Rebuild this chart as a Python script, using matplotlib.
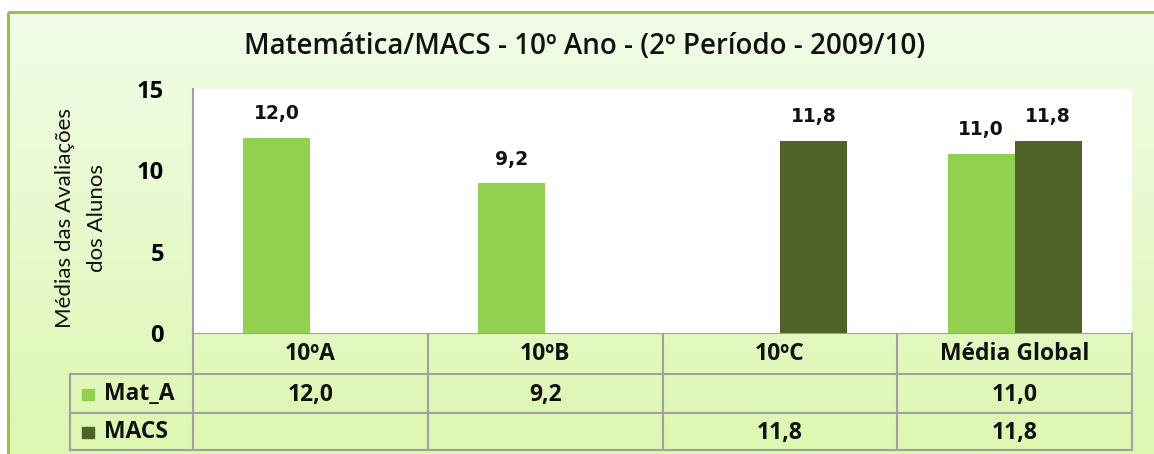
import numpy as np
import matplotlib
matplotlib.use("Agg")
import matplotlib.pyplot as plt
from matplotlib.patches import Rectangle
from matplotlib.colors import LinearSegmentedColormap

categories = ["10ºA", "10ºB", "10ºC", "Média Global"]
series_names = ["Mat_A", "MACS"]
mat_a = [12.0, 9.2, None, 11.0]
macs = [None, None, 11.8, 11.8]
yticks = [0, 5, 10, 15]
title = "Matemática/MACS - 10º Ano - (2º Período - 2009/10)"
ylabel = "Médias das Avaliações\ndos Alunos"

colors = ["#92D050", "#4F6228"]
W, H = 1154, 454
fig = plt.figure(figsize=(W / 100, H / 100), dpi=100)
fig.patch.set_facecolor("white")

# background gradient panel with green border
bg = fig.add_axes([0, 0, 1, 1], zorder=-10)
bg.axis("off")
cmap = LinearSegmentedColormap.from_list("g", ["#F2FCE8", "#DCF7B0"])
grad = np.linspace(0, 1, 256).reshape(-1, 1)
bg.imshow(grad, cmap=cmap, extent=[8, W + 5, H + 5, 12], aspect="auto")
bg.add_patch(Rectangle((8, 12), W, H, fill=False, edgecolor="#9BBB59", lw=2.2))
bg.set_xlim(0, W)
bg.set_ylim(H, 0)

fam = ["Open Sans", "DejaVu Sans"]

ax_l, ax_r, ax_t, ax_b = 193, 1132, 89, 333
ax = fig.add_axes([ax_l / W, 1 - ax_b / H, (ax_r - ax_l) / W, (ax_b - ax_t) / H])
ax.set_facecolor("white")
n = len(categories)
x = np.arange(n)
bw = 0.285
for vals, col, off in [(mat_a, colors[0], -0.5), (macs, colors[1], 0.5)]:
    for i, v in enumerate(vals):
        if v is None:
            continue
        xi = x[i] + off * bw
        ax.bar(xi, v, width=bw, color=col, zorder=3)
        ax.text(xi, v + 0.9, f"{v:.1f}".replace(".", ","), ha="center", va="bottom",
                fontsize=13.5, fontweight="bold", family="DejaVu Sans", color="#111111")

ax.set_xlim(-0.5, n - 0.5)
ax.set_ylim(0, 15)
ax.set_yticks(yticks)
ax.set_yticklabels([str(t) for t in yticks], fontsize=17, fontweight="bold", family=fam)
ax.tick_params(axis="y", length=0, pad=21)
ax.set_xticks([])
for s in ["top", "right", "bottom"]:
    ax.spines[s].set_visible(False)
ax.spines["left"].set_color("#A0A0A0")
ax.spines["left"].set_linewidth(1.5)

fig.text(585 / W, 1 - 46 / H, title, ha="center", va="center", fontsize=20,
         family=fam, fontweight="semibold", color="#111111")
fig.text(81 / W, 1 - 218 / H, ylabel, ha="center", va="center", rotation=90,
         fontsize=16, family=["Lato", "DejaVu Sans"], color="#111111", linespacing=1.8)

# data table
col_edges = np.linspace(ax_l, ax_r, n + 1)
row_edges = [333, 374, 413, 450]
lab_l = 70
lc = "#A0A0A0"
lw = 1.5
bg.plot([ax_l, ax_r], [row_edges[0]] * 2, color=lc, lw=lw)
for yv in row_edges[1:]:
    bg.plot([lab_l, ax_r], [yv, yv], color=lc, lw=lw)
for xv in col_edges:
    bg.plot([xv, xv], [row_edges[0], row_edges[-1]], color=lc, lw=lw)
bg.plot([lab_l, lab_l], [row_edges[1], row_edges[-1]], color=lc, lw=lw)

tfs = 16.5
for j, c in enumerate(categories):
    bg.text((col_edges[j] + col_edges[j + 1]) / 2, (row_edges[0] + row_edges[1]) / 2 + 1, c,
            ha="center", va="center", fontsize=tfs, fontweight="bold", family=fam, color="#111111")
for r, (vals, name, col) in enumerate([(mat_a, series_names[0], colors[0]),
                                        (macs, series_names[1], colors[1])]):
    yc = (row_edges[r + 1] + row_edges[r + 2]) / 2 + 1
    bg.add_patch(Rectangle((82, yc - 5.5), 12, 11, color=col))
    bg.text(104, yc, name, ha="left", va="center", fontsize=tfs, fontweight="bold",
            family=fam, color="#111111")
    for j, v in enumerate(vals):
        if v is None:
            continue
        bg.text((col_edges[j] + col_edges[j + 1]) / 2, yc, f"{v:.1f}".replace(".", ","),
                ha="center", va="center", fontsize=tfs, fontweight="bold", family=fam, color="#111111")

fig.savefig("out.png", dpi=100)
